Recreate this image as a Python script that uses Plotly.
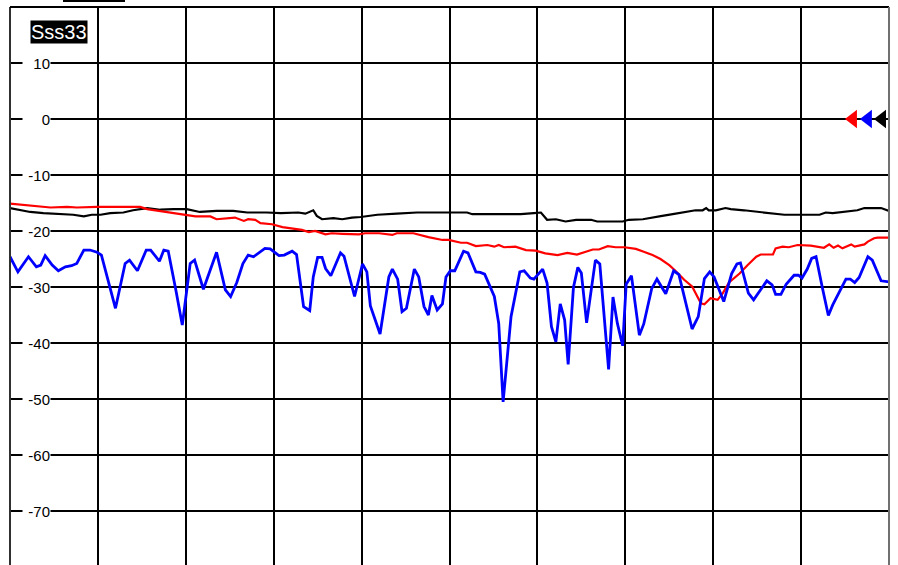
import plotly.graph_objects as go

# ---------------- data ----------------
blue_x = [0.0, 0.9, 2.1, 3.0, 3.5, 4.0, 4.8, 5.5, 6.3, 7.0, 7.6, 8.4, 9.1, 9.9, 10.4,
          11.2, 12.0, 13.1, 13.6, 14.5, 15.5, 16.0, 17.0, 17.5, 18.0, 18.9, 19.6, 20.5,
          21.0, 22.0, 23.0, 23.5, 24.5, 25.1, 25.8, 26.5, 27.1, 27.7, 29.0, 29.6, 30.6,
          31.2, 32.1, 32.6, 33.4, 34.1, 34.5, 35.0, 35.5, 35.9, 36.5, 37.6, 38.0, 39.2,
          40.1, 40.6, 41.0, 42.1, 43.1, 43.5, 44.1, 44.6, 45.1, 46.0, 46.5, 47.1, 47.6,
          48.0, 48.6, 49.2, 49.6, 50.1, 50.6, 51.6, 52.1, 53.0, 53.5, 54.0, 55.1, 55.6,
          56.1, 57.0, 58.0, 58.5, 59.2, 59.6, 60.6, 61.1, 61.6, 62.1, 62.6, 63.1, 63.5,
          64.1, 64.6, 65.0, 65.6, 66.6, 67.1, 68.1, 68.6, 69.1, 69.7, 70.1, 70.7, 71.6,
          72.1, 73.0, 73.6, 74.6, 75.5, 76.1, 77.6, 78.3, 79.0, 79.6, 80.1, 81.2, 82.1,
          82.7, 83.1, 84.0, 84.6, 86.1, 86.7, 87.1, 87.7, 88.3, 89.2, 89.7, 90.1, 90.7,
          91.2, 91.7, 92.4, 93.1, 93.6, 95.1, 95.6, 96.1, 96.6, 97.6, 98.1, 99.1, 100.0]
blue_y = [-24.6, -27.3, -24.6, -26.4, -26.1, -24.4, -26.1, -27.1, -26.4, -26.2, -25.8,
          -23.4, -23.4, -23.8, -24.3, -29.1, -33.8, -25.8, -25.2, -27.1, -23.4, -23.4,
          -25.4, -23.4, -23.6, -30.8, -36.8, -25.8, -25.2, -30.4, -25.8, -23.8, -30.5,
          -31.7, -29.2, -25.8, -24.3, -24.6, -23.1, -23.2, -24.4, -24.3, -23.6, -24.2,
          -33.5, -34.2, -28.2, -24.7, -24.7, -26.7, -28.0, -23.9, -24.5, -31.7, -25.9,
          -27.3, -33.4, -38.4, -28.2, -26.8, -28.6, -34.4, -33.8, -26.8, -28.2, -33.5,
          -35.0, -31.5, -34.1, -33.0, -28.2, -27.1, -27.1, -23.6, -23.9, -27.3, -27.4,
          -27.7, -31.7, -36.5, -50.5, -35.3, -27.3, -27.1, -28.4, -28.6, -26.8, -29.3,
          -37.1, -39.8, -33.0, -35.9, -43.8, -30.1, -26.5, -27.5, -36.4, -25.2, -25.9,
          -44.7, -31.8, -36.5, -40.5, -29.5, -28.0, -38.6, -36.6, -30.3, -28.6, -31.2,
          -27.1, -27.8, -37.5, -35.3, -28.5, -27.3, -28.2, -32.6, -27.6, -25.9, -25.7,
          -31.1, -32.3, -28.9, -29.6, -31.3, -31.3, -29.5, -27.9, -27.9, -28.4, -26.8,
          -24.9, -24.6, -30.0, -35.1, -33.2, -28.6, -28.6, -29.2, -28.3, -24.6, -25.2,
          -28.9, -29.1]

red_x = [0.0, 2.3, 4.6, 6.5, 7.6, 9.9, 13.3, 14.8, 15.6, 17.9, 19.6, 21.1, 22.8, 23.5,
         25.6, 26.6, 27.1, 27.9, 28.5, 29.8, 31.0, 32.1, 33.2, 34.0, 34.7, 35.9, 36.6,
         37.8, 39.7, 40.4, 42.0, 43.5, 44.0, 45.9, 47.6, 49.2, 49.9, 51.3, 52.0, 53.0,
         54.3, 55.1, 55.6, 56.2, 57.5, 58.7, 59.8, 60.9, 62.3, 63.4, 64.5, 66.3, 67.0,
         68.0, 68.9, 69.9, 71.2, 72.1, 73.1, 74.0, 75.0, 75.7, 76.7, 77.6, 78.6, 79.0,
         79.7, 80.5, 81.1, 81.8, 83.0, 83.9, 84.9, 85.4, 86.8, 87.1, 87.9, 88.6, 89.6,
         91.1, 92.6, 93.2, 93.7, 94.2, 94.7, 95.7, 96.1, 97.2, 97.6, 98.3, 98.7, 100.0]
red_y = [-15.1, -15.4, -15.8, -15.7, -15.8, -15.7, -15.7, -15.7, -16.1, -16.6, -17.1,
         -17.4, -17.4, -17.9, -17.6, -18.2, -17.9, -18.0, -18.6, -18.8, -19.3, -19.5,
         -19.8, -20.2, -20.0, -20.6, -20.4, -20.5, -20.6, -20.4, -20.4, -20.7, -20.4,
         -20.4, -21.1, -21.6, -21.6, -22.1, -22.1, -22.7, -22.5, -22.8, -22.5, -22.9,
         -22.8, -23.4, -23.5, -24.0, -24.3, -23.9, -24.2, -23.3, -23.3, -22.7, -22.9,
         -22.9, -23.2, -23.7, -24.3, -25.0, -26.1, -27.1, -28.7, -29.9, -32.9, -33.1,
         -32.0, -32.3, -31.1, -29.2, -27.6, -26.1, -24.6, -24.2, -24.2, -23.1, -22.8,
         -22.9, -22.5, -22.6, -23.0, -22.4, -23.0, -22.6, -23.1, -22.4, -22.8, -22.4,
         -21.9, -21.3, -21.2, -21.2]

black_x = [0.0, 2.3, 3.8, 5.7, 7.2, 8.4, 9.3, 10.3, 11.4, 12.9, 14.0, 15.6, 17.1, 18.6,
           20.1, 21.6, 23.5, 25.4, 27.0, 29.2, 30.8, 32.8, 33.6, 34.5, 34.9, 35.5, 36.8,
           37.8, 38.9, 39.9, 41.8, 44.0, 46.3, 49.7, 52.0, 52.6, 56.6, 57.3, 58.1, 59.6,
           60.4, 61.1, 62.1, 63.2, 64.4, 66.1, 66.8, 69.7, 70.4, 72.0, 72.9, 74.2, 75.4,
           76.9, 78.0, 78.8, 79.2, 79.5, 80.3, 81.4, 82.0, 83.5, 84.5, 86.2, 88.1, 92.1,
           92.8, 93.6, 95.3, 96.4, 97.2, 99.1, 100.0]
black_y = [-15.9, -16.6, -16.8, -17.0, -17.1, -17.4, -17.1, -17.1, -16.8, -16.7, -16.3,
           -15.9, -16.2, -16.1, -16.1, -16.6, -16.4, -16.4, -16.7, -16.7, -16.8, -16.7,
           -16.9, -16.3, -17.3, -17.9, -17.7, -17.9, -17.6, -17.5, -17.1, -16.9, -16.7,
           -16.7, -16.7, -17.0, -17.0, -17.1, -17.0, -16.8, -16.7, -18.0, -17.9, -18.3,
           -18.0, -18.0, -18.3, -18.3, -18.0, -17.9, -17.6, -17.3, -17.0, -16.6, -16.3,
           -16.3, -15.9, -16.3, -16.3, -15.9, -16.1, -16.3, -16.5, -16.8, -17.1, -17.1,
           -16.7, -16.8, -16.5, -16.3, -15.9, -15.9, -16.4]

ref_x = [95.9, 97.6, 99.2]
ref_y = [0, 0, 0]
ref_colors = ["#ff0000", "#0000ff", "#000000"]

tick_values = [10, 0, -10, -20, -30, -40, -50, -60, -70]
channel_label = "Sss33"

# ---------------- figure ----------------
fig = go.Figure()
fig.add_trace(go.Scatter(x=black_x, y=black_y, mode="lines",
                         line=dict(color="#000000", width=2.2), showlegend=False))
fig.add_trace(go.Scatter(x=red_x, y=red_y, mode="lines",
                         line=dict(color="#ff0000", width=2.2), showlegend=False))
fig.add_trace(go.Scatter(x=blue_x, y=blue_y, mode="lines",
                         line=dict(color="#0000ff", width=2.8), showlegend=False))
fig.add_trace(go.Scatter(x=ref_x, y=ref_y, mode="markers",
                         marker=dict(symbol="triangle-left", size=16, color=ref_colors,
                                     line=dict(width=0)),
                         showlegend=False, cliponaxis=False))

W, H = 898, 565
ml, mr, mt, mb = 10, 9, 7, 0
pw = W - ml - mr
ph = H - mt - mb

annotations = []
for v in tick_values:
    annotations.append(dict(
        x=(22 - ml) / pw, xref="paper", xanchor="left",
        y=v, yref="y", yanchor="middle",
        text=str(v), showarrow=False, width=27, align="right",
        bgcolor="#ffffff", borderpad=0,
        font=dict(family="Liberation Sans, Arial, sans-serif", size=15, color="#000000")))
annotations.append(dict(
    x=(59 - ml) / pw, xref="paper", xanchor="center",
    y=(H - 32.5) / ph, yref="paper", yanchor="middle",
    text=channel_label, showarrow=False, bgcolor="#000000", borderpad=0,
    font=dict(family="Liberation Sans, Arial, sans-serif", size=20, color="#ffffff")))

shapes = [
    dict(type="line", xref="paper", yref="paper", x0=0, x1=0, y0=0, y1=1,
         line=dict(color="#303030", width=2)),
    dict(type="line", xref="paper", yref="paper", x0=0, x1=1, y0=1, y1=1,
         line=dict(color="#000000", width=2)),
    dict(type="line", xref="paper", yref="paper", x0=1, x1=1, y0=0, y1=1,
         line=dict(color="#707070", width=2)),
    dict(type="line", xref="paper", yref="paper",
         x0=(63 - ml) / pw, x1=(125 - ml) / pw,
         y0=(H - 1) / ph, y1=(H - 1) / ph,
         line=dict(color="#000000", width=2)),
]

fig.update_layout(
    width=W, height=H,
    margin=dict(l=ml, r=mr, t=mt, b=mb, pad=0),
    paper_bgcolor="#ffffff", plot_bgcolor="#ffffff",
    hovermode=False,
    xaxis=dict(range=[0, 100], dtick=10, tick0=0, showgrid=True, gridcolor="#000000",
               gridwidth=2, showticklabels=False, zeroline=False, showline=False,
               ticks=""),
    yaxis=dict(range=[20 - ph / 5.6, 20], dtick=10, tick0=0, showgrid=True,
               gridcolor="#000000", gridwidth=2, showticklabels=False, zeroline=False,
               showline=False, ticks=""),
    annotations=annotations,
    shapes=shapes,
)

fig.write_html("out.html", config={"displayModeBar": False},
               post_script="document.body.style.margin='0';document.body.style.overflow='hidden';")
